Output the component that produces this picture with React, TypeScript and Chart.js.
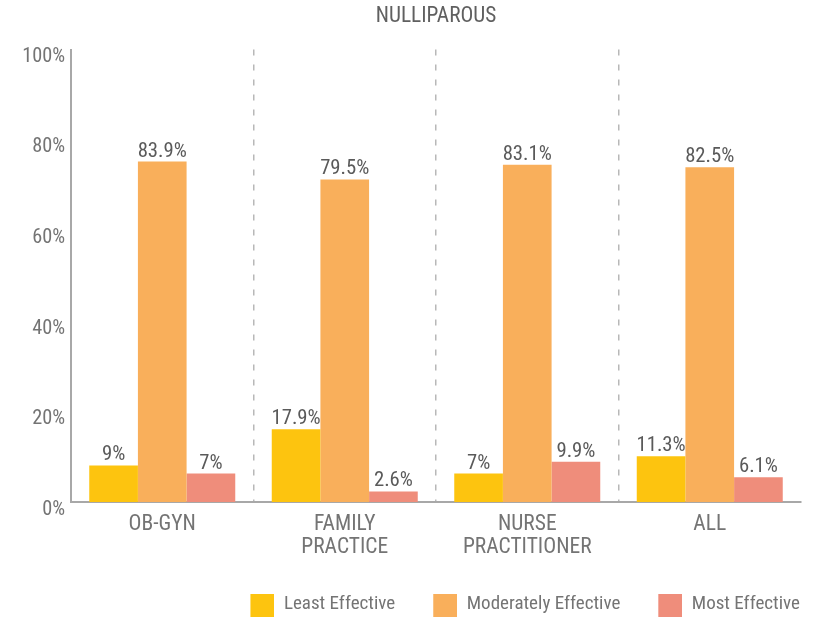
import React, { useEffect, useRef } from 'react';
import { Chart, registerables } from 'chart.js';

Chart.register(...registerables);

const TITLE = 'NULLIPAROUS';
const CATEGORIES: (string | string[])[] = ['OB-GYN', ['FAMILY', 'PRACTICE'], ['NURSE', 'PRACTITIONER'], 'ALL'];
const SERIES_NAMES = ['Least Effective', 'Moderately Effective', 'Most Effective'];
const LEAST_EFFECTIVE = [9, 17.9, 7, 11.3];
const MODERATELY_EFFECTIVE = [83.9, 79.5, 83.1, 82.5];
const MOST_EFFECTIVE = [7, 2.6, 9.9, 6.1];
const SERIES_COLORS = ['#FDC40F', '#F9AF5B', '#EF8D7B'];
const Y_TICK_LABELS = ['0%', '20%', '40%', '60%', '80%', '100%'];

// scale of the reference drawing (its percent ticks are not aligned with the bar scale)
const Y_MAX = 111.5;
const Y_TICK_START = -2;
const Y_TICK_STEP = 22.36;

const FONT = "'Roboto Condensed', 'Liberation Sans', sans-serif";
const TEXT_GRAY = '#747474';

function makeSwatch(color: string, slot: number, size: number) {
  const c = document.createElement('canvas');
  c.width = slot;
  c.height = size;
  const g = c.getContext('2d')!;
  g.fillStyle = color;
  g.fillRect(slot - size, 0, size, size);
  return c;
}

const valueLabels = {
  id: 'valueLabels',
  afterDatasetsDraw(chart: any) {
    const { ctx } = chart;
    ctx.save();
    ctx.font = `20.7px ${FONT}`;
    ctx.fillStyle = '#5a5a5a';
    ctx.textAlign = 'center';
    ctx.textBaseline = 'alphabetic';
    chart.data.datasets.forEach((ds: any, i: number) => {
      const meta = chart.getDatasetMeta(i);
      meta.data.forEach((el: any, j: number) => {
        ctx.fillText(`${ds.data[j]}%`, el.x, el.y - 5);
      });
    });
    ctx.restore();
  },
};

export default function App() {
  const ref = useRef<HTMLCanvasElement | null>(null);

  useEffect(() => {
    if (!ref.current) return;
    const SLOT = 61;
    const swatches = SERIES_COLORS.map((c) => makeSwatch(c, SLOT, 24));
    const seriesValues = [LEAST_EFFECTIVE, MODERATELY_EFFECTIVE, MOST_EFFECTIVE];

    const chart = new Chart(ref.current, {
      type: 'bar',
      data: {
        labels: CATEGORIES as any,
        datasets: SERIES_NAMES.map((name, i) => ({
          label: name,
          data: seriesValues[i],
          backgroundColor: SERIES_COLORS[i],
          borderWidth: 0,
          categoryPercentage: 0.8,
          barPercentage: 1.0,
        })),
      },
      options: {
        animation: false,
        responsive: false,
        devicePixelRatio: 1,
        layout: { padding: { left: 10, right: 24, top: 0, bottom: 0 } },
        plugins: {
          tooltip: { enabled: false },
          title: {
            display: true,
            fullSize: false,
            text: TITLE,
            color: '#606060',
            font: { family: FONT, size: 21.3, weight: 'normal', lineHeight: 1.2 },
            padding: { top: 4, bottom: 20 },
          },
          legend: {
            position: 'bottom',
            align: 'end',
            maxHeight: 26,
            labels: {
              usePointStyle: true,
              pointStyleWidth: SLOT,
              padding: 1,
              color: TEXT_GRAY,
              font: { family: FONT, size: 19 },
              generateLabels: (c: any) => {
                const items = (Chart.defaults.plugins.legend.labels as any).generateLabels(c);
                return items.map((it: any, i: number) => ({ ...it, pointStyle: swatches[i] }));
              },
            },
          },
        },
        scales: {
          x: {
            type: 'category',
            offset: true,
            afterFit: (scale: any) => {
              scale.height = 92;
            },
            grid: {
              offset: true,
              drawTicks: false,
              lineWidth: 1.5,
              color: (ctx: any) =>
                ctx.index > 0 && ctx.index < CATEGORIES.length ? '#b8b8b8' : 'rgba(0,0,0,0)',
            },
            border: { display: true, color: '#a8a8a8', width: 2, dash: [6, 9] },
            ticks: {
              autoSkip: false,
              maxRotation: 0,
              minRotation: 0,
              padding: 11,
              color: TEXT_GRAY,
              font: { family: FONT, size: 21.5, lineHeight: 1.07 },
            },
          },
          y: {
            min: 0,
            max: Y_MAX,
            afterFit: (scale: any) => {
              scale.width = 61;
            },
            afterBuildTicks: (scale: any) => {
              scale.ticks = Y_TICK_LABELS.map((_, i) => ({ value: Y_TICK_START + i * Y_TICK_STEP }));
            },
            grid: { display: false, drawTicks: false },
            border: { display: true, color: '#a8a8a8', width: 2 },
            ticks: {
              autoSkip: false,
              padding: 6,
              color: TEXT_GRAY,
              font: { family: FONT, size: 20.3 },
              callback: (_v: any, i: number) => Y_TICK_LABELS[i],
            },
          },
        },
      },
      plugins: [valueLabels],
    } as any);

    return () => chart.destroy();
  }, []);

  return (
    <div style={{ position: 'fixed', left: 0, top: 0, width: 825, height: 620, background: '#fff' }}>
      <canvas ref={ref} width={825} height={620} style={{ display: 'block' }} />
    </div>
  );
}
